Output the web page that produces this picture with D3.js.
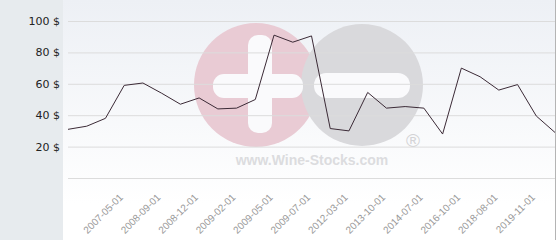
<!DOCTYPE html>
<html>
<head>
<meta charset="utf-8">
<script src="https://cdn.jsdelivr.net/npm/d3@7"></script>
<style>
  body { margin: 0; background: #fff; }
  svg { display: block; }
</style>
</head>
<body>
<div id="chart"></div>
<script>
// valeurs (prix en $)
var prices = [31, 33, 38, 59, 60.5, 54, 47, 51, 44, 44.5, 50, 91, 86.5, 90.5,
              31.5, 30, 54.5, 44.5, 45.5, 44.5, 28, 70, 64.5, 56, 59.5, 39.5, 29]

// étiquettes de l'axe x (un point sur deux, à partir du 4e)
var tickIndex = [3, 5, 7, 9, 11, 13, 15, 17, 19, 21, 23, 25]
var tickLabels = ["2007-05-01", "2008-09-01", "2008-12-01", "2009-02-01", "2009-05-01", "2009-07-01",
                  "2012-03-01", "2013-10-01", "2014-07-01", "2016-10-01", "2018-08-01", "2019-11-01"]

var yTicks = [0, 20, 40, 60, 80, 100]

var width = 560
var height = 240

var svg = d3.select("#chart")
  .append("svg")
    .attr("width", width)
    .attr("height", height)

// dégradé du fond
var defs = svg.append("defs")
var grad = defs.append("linearGradient")
    .attr("id", "bg")
    .attr("x1", 0).attr("y1", 0).attr("x2", 0).attr("y2", 1)
grad.append("stop").attr("offset", "0%").attr("stop-color", "#edf0f5")
grad.append("stop").attr("offset", "85%").attr("stop-color", "#ffffff")

// panneau gauche gris
svg.append("rect")
    .attr("x", 0).attr("y", 0)
    .attr("width", 63).attr("height", height)
    .attr("fill", "#e7ebee")

svg.append("rect")
    .attr("x", 63).attr("y", 0)
    .attr("width", 492).attr("height", height)
    .attr("fill", "url(#bg)")

svg.append("line")
    .attr("x1", 555.5).attr("x2", 555.5)
    .attr("y1", 0).attr("y2", height)
    .attr("stroke", "#b4b4b4")

// filigrane
var wm = svg.append("g")
wm.append("circle").attr("cx", 256).attr("cy", 85).attr("r", 62).attr("fill", "#e9cbd4")
wm.append("circle").attr("cx", 362).attr("cy", 85).attr("r", 61).attr("fill", "#d9d9dc")
wm.append("rect").attr("x", 248).attr("y", 35).attr("width", 24).attr("height", 98)
    .attr("rx", 10).attr("fill", "#fafafc")
wm.append("rect").attr("x", 213).attr("y", 74).attr("width", 90).attr("height", 24)
    .attr("rx", 11).attr("fill", "#fafafc")
wm.append("rect").attr("x", 314).attr("y", 73).attr("width", 96).attr("height", 25)
    .attr("rx", 12).attr("fill", "#fafafc")
wm.append("text")
    .attr("x", 312).attr("y", 165)
    .attr("text-anchor", "middle")
    .style("font-family", "Liberation Sans, Arial, sans-serif")
    .style("font-weight", "bold")
    .style("font-size", "14px")
    .attr("fill", "#dcdcdf")
    .text("www.Wine-Stocks.com")
wm.append("text")
    .attr("x", 413).attr("y", 147)
    .attr("text-anchor", "middle")
    .style("font-family", "Liberation Sans, Arial, sans-serif")
    .style("font-size", "19px")
    .attr("fill", "#d3d3d6")
    .text("®")

// échelles
var x = d3.scaleLinear()
  .domain([0, prices.length - 1])
  .range([68, 555])

var y = d3.scaleLinear()
  .domain([0, 100])
  .range([178, 21])

// axe y avec lignes de grille
var yAxis = svg.append("g")
    .attr("transform", "translate(68,0)")
    .call(d3.axisLeft(y)
      .tickValues(yTicks)
      .tickSize(-(555 - 68))
      .tickPadding(8)
      .tickFormat(function(d){ return d ? d + " $" : "" }))
yAxis.select(".domain").remove()
yAxis.selectAll(".tick line").attr("stroke", "#dcdcdc")
yAxis.selectAll(".tick text")
    .attr("fill", "#222")
    .style("font-family", "DejaVu Sans, sans-serif")
    .style("font-size", "11px")

// axe x
var xAxis = svg.append("g")
    .attr("transform", "translate(0,178)")
    .call(d3.axisBottom(x)
      .tickValues(tickIndex)
      .tickSize(0)
      .tickFormat(function(d, i){ return tickLabels[i] }))
xAxis.select(".domain").remove()
xAxis.selectAll(".tick text")
    .attr("fill", "#999")
    .style("font-family", "Liberation Sans, Arial, sans-serif")
    .style("font-size", "10px")
    .attr("text-anchor", "end")
    .attr("dy", 0)
    .attr("y", 0)
    .attr("transform", "translate(-1,20) rotate(-45)")

// ligne des prix
var line = d3.line()
  .x(function(d, i){ return x(i) })
  .y(function(d){ return y(d) })

svg.append("path")
    .datum(prices)
    .attr("fill", "none")
    .attr("stroke", "#3b2a36")
    .attr("stroke-width", 1)
    .attr("d", line)
</script>
</body>
</html>
